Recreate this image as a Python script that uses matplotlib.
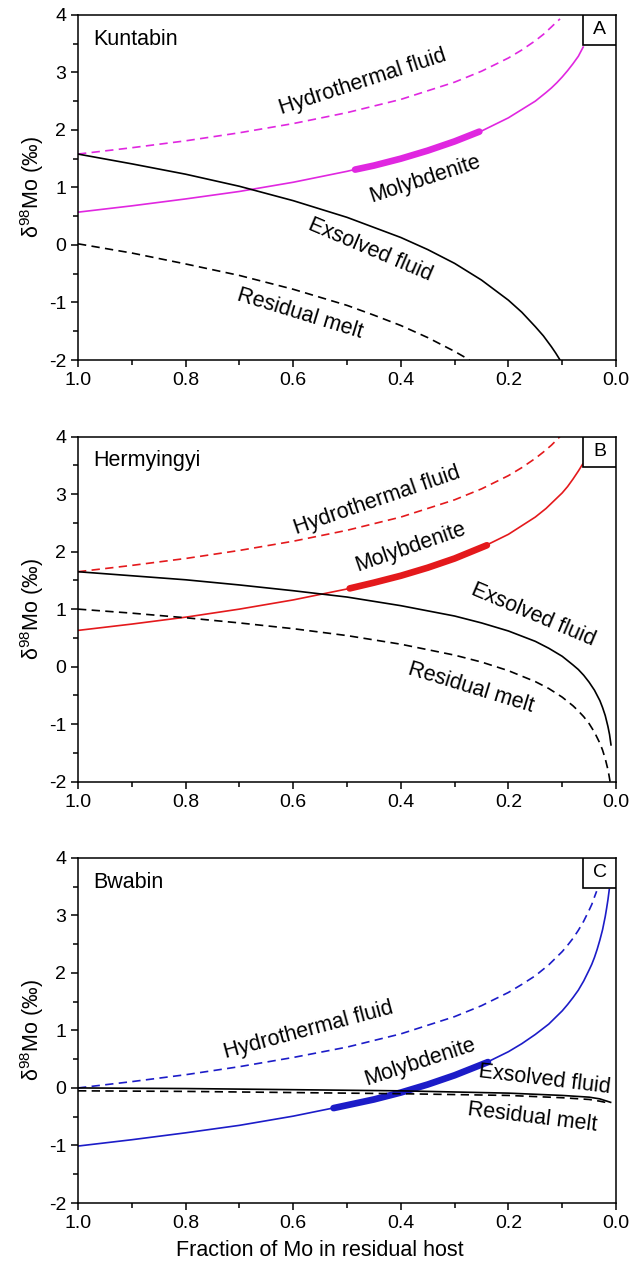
#!/usr/bin/env python3
"""
Mo isotope Rayleigh fractionation curves for three deposits
(Kuntabin, Hermyingyi, Bwabin), stacked in one column.
"""

import matplotlib.pyplot as plt
from matplotlib.patches import Rectangle
from matplotlib.ticker import MultipleLocator

plt.rcParams["font.family"] = ["Liberation Sans", "DejaVu Sans"]
plt.rcParams["mathtext.fontset"] = "custom"
plt.rcParams["mathtext.rm"] = "Liberation Sans"
plt.rcParams["axes.unicode_minus"] = False

# --- Panel A: Kuntabin (fraction of Mo in residual host -> d98Mo) ---
A_HYDRO_F = [1.0, 0.9, 0.8, 0.7, 0.6, 0.5, 0.4, 0.3, 0.25, 0.2, 0.175, 0.15, 0.135, 0.12,
             0.11, 0.104]
A_HYDRO = [1.58, 1.69, 1.81, 1.95, 2.11, 2.30, 2.53, 2.83, 3.02, 3.25, 3.39, 3.55, 3.66, 3.79,
           3.88, 3.93]
A_MOLY_F = [1.0, 0.9, 0.8, 0.7, 0.6, 0.5, 0.4, 0.3, 0.25, 0.2, 0.15, 0.13, 0.12, 0.11, 0.1,
            0.09, 0.08, 0.07, 0.061]
A_MOLY = [0.57, 0.68, 0.80, 0.93, 1.09, 1.28, 1.50, 1.80, 1.98, 2.21, 2.50, 2.65, 2.73, 2.82, 2.92,
          3.03, 3.15, 3.28, 3.44]
A_OBS_F = [0.485, 0.45, 0.4, 0.35, 0.3, 0.254]
A_OBS = [1.31, 1.38, 1.50, 1.64, 1.80, 1.97]
A_FLUID_F = [1.0, 0.9, 0.8, 0.7, 0.6, 0.5, 0.4, 0.35, 0.3, 0.25, 0.2, 0.175, 0.15, 0.135,
             0.12, 0.112, 0.104]
A_FLUID = [1.58, 1.41, 1.23, 1.02, 0.77, 0.48, 0.13, -0.08, -0.32, -0.61, -0.96, -1.17, -1.42, -1.58,
           -1.77, -1.88, -2.0]
A_MELT_F = [1.0, 0.9, 0.8, 0.7, 0.6, 0.5, 0.45, 0.4, 0.35, 0.3, 0.272]
A_MELT = [0.02, -0.14, -0.33, -0.53, -0.77, -1.05, -1.22, -1.40, -1.61, -1.85, -2.0]

# --- Panel B: Hermyingyi ---
B_HYDRO_F = [1.0, 0.9, 0.8, 0.7, 0.6, 0.5, 0.4, 0.3, 0.25, 0.2, 0.175, 0.15, 0.135, 0.12, 0.104]
B_HYDRO = [1.65, 1.76, 1.88, 2.02, 2.18, 2.37, 2.60, 2.90, 3.09, 3.32, 3.46, 3.62, 3.73, 3.85, 4.0]
B_MOLY_F = [1.0, 0.9, 0.8, 0.7, 0.6, 0.5, 0.4, 0.3, 0.25, 0.2, 0.15, 0.13, 0.12, 0.11, 0.1,
            0.09, 0.08, 0.07, 0.062]
B_MOLY = [0.63, 0.74, 0.86, 1.00, 1.16, 1.35, 1.58, 1.88, 2.07, 2.30, 2.60, 2.75, 2.84, 2.93, 3.02,
          3.13, 3.26, 3.40, 3.52]
B_OBS_F = [0.495, 0.45, 0.4, 0.35, 0.3, 0.24]
B_OBS = [1.36, 1.46, 1.58, 1.72, 1.88, 2.11]
B_FLUID_F = [1.0, 0.9, 0.8, 0.7, 0.6, 0.5, 0.4, 0.3, 0.25, 0.2, 0.15, 0.125, 0.1, 0.08, 0.07,
             0.06, 0.05, 0.04, 0.03, 0.025, 0.02, 0.015, 0.012, 0.0093]
B_FLUID = [1.65, 1.58, 1.51, 1.42, 1.32, 1.21, 1.06, 0.88, 0.76, 0.62, 0.44, 0.32, 0.18, 0.03, -0.05,
           -0.15, -0.27, -0.41, -0.59, -0.71, -0.85, -1.04, -1.18, -1.36]
B_MELT_F = [1.0, 0.9, 0.8, 0.7, 0.6, 0.5, 0.4, 0.3, 0.25, 0.2, 0.15, 0.125, 0.1, 0.08, 0.07,
            0.06, 0.05, 0.04, 0.03, 0.025, 0.02, 0.015, 0.013, 0.011]
B_MELT = [1.0, 0.93, 0.85, 0.76, 0.66, 0.54, 0.39, 0.20, 0.08, -0.07, -0.26, -0.38, -0.53, -0.68, -0.77,
          -0.87, -0.99, -1.14, -1.33, -1.45, -1.60, -1.79, -1.89, -2.0]

# --- Panel C: Bwabin ---
C_HYDRO_F = [1.0, 0.9, 0.8, 0.7, 0.6, 0.5, 0.4, 0.3, 0.25, 0.2, 0.175, 0.15, 0.125, 0.1, 0.09,
             0.08, 0.07, 0.06, 0.05, 0.045, 0.04, 0.036]
C_HYDRO = [0.0, 0.11, 0.23, 0.37, 0.53, 0.71, 0.94, 1.24, 1.43, 1.66, 1.80, 1.95, 2.14, 2.37, 2.48,
           2.60, 2.74, 2.90, 3.09, 3.19, 3.32, 3.42]
C_MOLY_F = [1.0, 0.9, 0.8, 0.7, 0.6, 0.5, 0.4, 0.3, 0.25, 0.2, 0.175, 0.15, 0.125, 0.1, 0.09,
            0.08, 0.07, 0.06, 0.05, 0.045, 0.04, 0.035, 0.03, 0.025, 0.02, 0.0175, 0.015, 0.0125]
C_MOLY = [-1.01, -0.90, -0.78, -0.65, -0.49, -0.30, -0.08, 0.22, 0.40, 0.63, 0.77, 0.93, 1.11, 1.34, 1.45,
          1.57, 1.70, 1.86, 2.05, 2.15, 2.27, 2.41, 2.57, 2.75, 2.98, 3.12, 3.27, 3.45]
C_OBS_F = [0.525, 0.45, 0.4, 0.35, 0.3, 0.238]
C_OBS = [-0.35, -0.20, -0.08, 0.06, 0.22, 0.45]
C_FLUID_F = [1.0, 0.8, 0.6, 0.4, 0.2, 0.1, 0.05, 0.03, 0.02, 0.01]
C_FLUID = [0.0, -0.01, -0.03, -0.05, -0.09, -0.13, -0.16, -0.19, -0.22, -0.25]
C_MELT_F = [1.0, 0.8, 0.6, 0.4, 0.2, 0.1, 0.05, 0.03, 0.02, 0.015]
C_MELT = [-0.05, -0.06, -0.08, -0.10, -0.13, -0.17, -0.20, -0.23, -0.25, -0.28]

PANELS = [
    {
        "letter": "A", "name": "Kuntabin", "color": "#e027e0",
        "hydro": (A_HYDRO_F, A_HYDRO), "moly": (A_MOLY_F, A_MOLY), "obs": (A_OBS_F, A_OBS),
        "fluid": (A_FLUID_F, A_FLUID), "melt": (A_MELT_F, A_MELT),
        # label: (x, y, rotation)
        "labels": {
            "Hydrothermal fluid": (0.47, 2.84, 18),
            "Molybdenite": (0.355, 1.14, 18),
            "Exsolved fluid": (0.456, -0.08, -23),
            "Residual melt": (0.587, -1.2, -17),
        },
    },
    {
        "letter": "B", "name": "Hermyingyi", "color": "#e4191c",
        "hydro": (B_HYDRO_F, B_HYDRO), "moly": (B_MOLY_F, B_MOLY), "obs": (B_OBS_F, B_OBS),
        "fluid": (B_FLUID_F, B_FLUID), "melt": (B_MELT_F, B_MELT),
        "labels": {
            "Hydrothermal fluid": (0.444, 2.88, 19),
            "Molybdenite": (0.381, 2.07, 19),
            "Exsolved fluid": (0.154, 0.90, -23),
            "Residual melt": (0.269, -0.36, -17),
        },
    },
    {
        "letter": "C", "name": "Bwabin", "color": "#1c1cc8",
        "hydro": (C_HYDRO_F, C_HYDRO), "moly": (C_MOLY_F, C_MOLY), "obs": (C_OBS_F, C_OBS),
        "fluid": (C_FLUID_F, C_FLUID), "melt": (C_MELT_F, C_MELT),
        "labels": {
            "Hydrothermal fluid": (0.571, 1.0, 15),
            "Molybdenite": (0.364, 0.45, 18),
            "Exsolved fluid": (0.132, 0.14, -7),
            "Residual melt": (0.156, -0.51, -7),
        },
    },
]

FS_TEXT = 15.5
FS_TICK = 14
DASH = (5, 3.2)


def draw_panel(ax, p, xlabel=False):
    c = p["color"]
    ax.plot(*p["hydro"], color=c, lw=1.2, dashes=DASH)
    ax.plot(*p["moly"], color=c, lw=1.2)
    ax.plot(*p["obs"], color=c, lw=4.8, solid_capstyle="round")
    ax.plot(*p["fluid"], color="black", lw=1.2)
    ax.plot(*p["melt"], color="black", lw=1.2, dashes=DASH)

    for text, (x, y, rot) in p["labels"].items():
        ax.text(x, y, text, rotation=rot, rotation_mode="anchor",
                ha="center", va="center", fontsize=FS_TEXT)

    ax.text(0.028, 0.93, p["name"], transform=ax.transAxes,
            ha="left", va="center", fontsize=FS_TEXT)
    ax.add_patch(Rectangle((1 - 0.0613, 1 - 0.087), 0.0613, 0.087, transform=ax.transAxes,
                           facecolor="white", edgecolor="black", lw=1.2, zorder=5))
    ax.text(1 - 0.0613 / 2, 1 - 0.087 / 2, p["letter"], transform=ax.transAxes,
            ha="center", va="center", fontsize=14, zorder=6)

    ax.set_xlim(1.0, 0.0)
    ax.set_ylim(-2, 4)
    ax.xaxis.set_major_locator(MultipleLocator(0.2))
    ax.xaxis.set_minor_locator(MultipleLocator(0.1))
    ax.yaxis.set_major_locator(MultipleLocator(1))
    ax.yaxis.set_minor_locator(MultipleLocator(0.5))
    ax.tick_params(which="both", direction="out", top=False, right=False,
                   labelsize=FS_TICK, width=1.1)
    ax.tick_params(which="major", length=5)
    ax.tick_params(which="minor", length=3.5)
    ax.xaxis.set_major_formatter(plt.FormatStrFormatter("%.1f"))
    for s in ax.spines.values():
        s.set_linewidth(1.1)
    ax.set_ylabel(r"δ$^{98}$Mo (‰)", fontsize=FS_TEXT, labelpad=2)
    if xlabel:
        ax.set_xlabel("Fraction of Mo in residual host", fontsize=FS_TEXT, labelpad=6)
        ax.xaxis.label.set_x(0.45)


def main() -> None:
    fig = plt.figure(figsize=(6.42, 12.69), dpi=100)
    bottoms = [0.7163, 0.384, 0.052]
    for i, (p, b) in enumerate(zip(PANELS, bottoms)):
        ax = fig.add_axes([0.1215, b, 0.838, 0.272])
        draw_panel(ax, p, xlabel=(i == 2))
    fig.savefig("out.png", dpi=100, facecolor="white")
    plt.close(fig)


if __name__ == "__main__":
    main()
